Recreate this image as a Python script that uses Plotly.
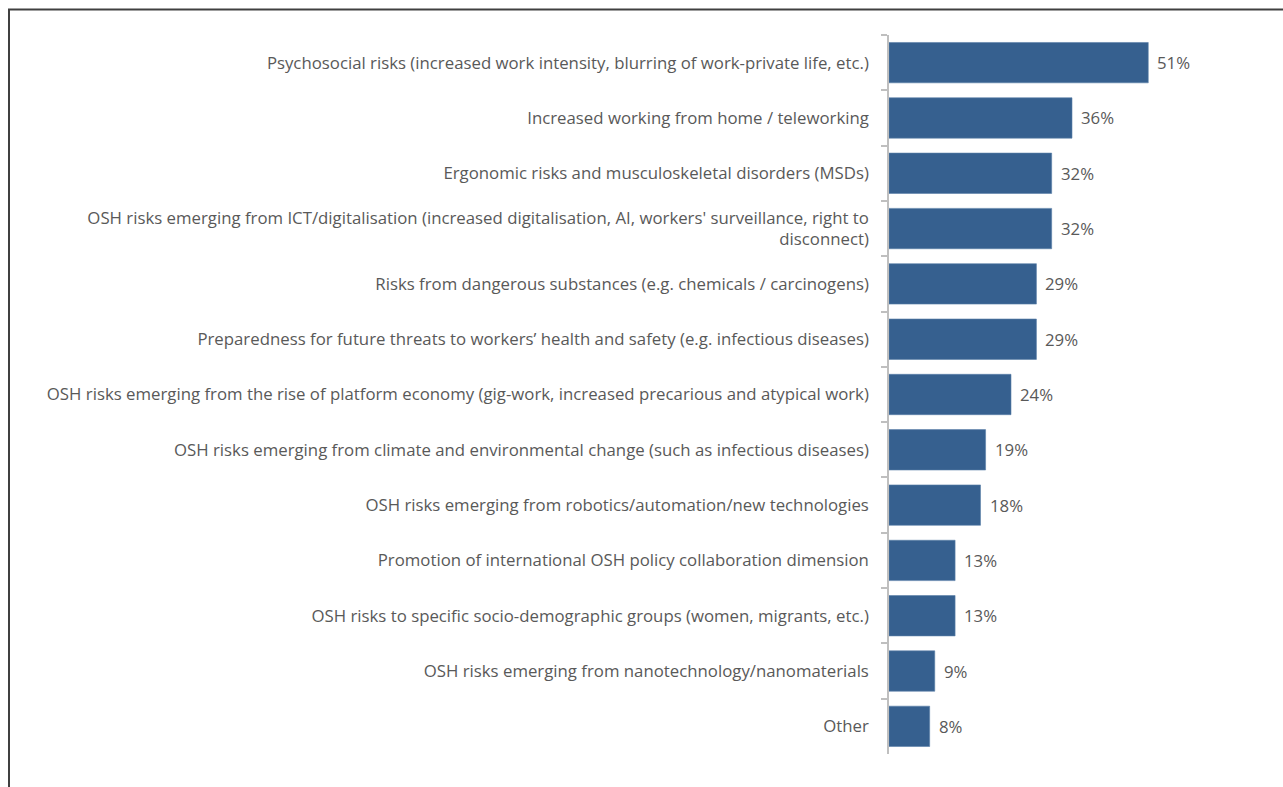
import plotly.graph_objects as go

categories = [
    "Psychosocial risks (increased work intensity, blurring of work-private life, etc.)",
    "Increased working from home / teleworking",
    "Ergonomic risks and musculoskeletal disorders (MSDs)",
    "OSH risks emerging from ICT/digitalisation (increased digitalisation, AI, workers' surveillance, right to<br>disconnect)",
    "Risks from dangerous substances (e.g. chemicals / carcinogens)",
    "Preparedness for future threats to workers\u2019 health and safety (e.g. infectious diseases)",
    "OSH risks emerging from the rise of platform economy (gig-work, increased precarious and atypical work)",
    "OSH risks emerging from climate and environmental change (such as infectious diseases)",
    "OSH risks emerging from robotics/automation/new technologies",
    "Promotion of international OSH policy collaboration dimension",
    "OSH risks to specific socio-demographic groups (women, migrants, etc.)",
    "OSH risks emerging from nanotechnology/nanomaterials",
    "Other",
]
values = [51, 36, 32, 32, 29, 29, 24, 19, 18, 13, 13, 9, 8]
value_labels = [f"{v}%" for v in values]

FONT = "Open Sans"
FS = 16.8
TEXT_COLOR = "#595959"
BAR_COLOR = "#36608f"

W, H = 1283, 787
ML, MR, MT, MB = 889, 89, 35, 33

fig = go.Figure(
    go.Bar(
        x=values,
        y=categories,
        orientation="h",
        marker=dict(color=BAR_COLOR, line=dict(color="#5a7fa8", width=0.6)),
        width=0.73,
        hoverinfo="skip",
    )
)

for cat, v, lab in zip(categories, values, value_labels):
    fig.add_annotation(
        x=v, y=cat, text=lab, showarrow=False, xanchor="left", xshift=7,
        font=dict(family=FONT, size=FS, color=TEXT_COLOR),
    )

# outer frame (top and left edges visible)
pw = W - ML - MR
ph = H - MT - MB
fig.add_shape(
    type="rect", xref="paper", yref="paper",
    x0=(9 - ML) / pw, x1=(W + 5 - ML) / pw,
    y0=-(H + 5 - MT - ph) / ph, y1=1 + (MT - 9.5) / ph,
    line=dict(color="#404040", width=2), fillcolor="rgba(0,0,0,0)",
)

fig.update_layout(
    width=W, height=H,
    margin=dict(l=ML, r=MR, t=MT, b=MB),
    paper_bgcolor="white", plot_bgcolor="white",
    showlegend=False,
    xaxis=dict(range=[0, 60], visible=False, fixedrange=True),
    yaxis=dict(
        type="category",
        categoryorder="array",
        categoryarray=categories,
        autorange="reversed",
        ticks="outside", ticklen=6, tickcolor="#bfbfbf", tickwidth=1.5,
        tickson="boundaries",
        showline=True, linecolor="#bfbfbf", linewidth=1.5,
        showgrid=False, zeroline=False,
        tickfont=dict(family=FONT, size=FS, color=TEXT_COLOR),
        ticklabelstandoff=15,
    ),
)

fig.write_html("out.html")
